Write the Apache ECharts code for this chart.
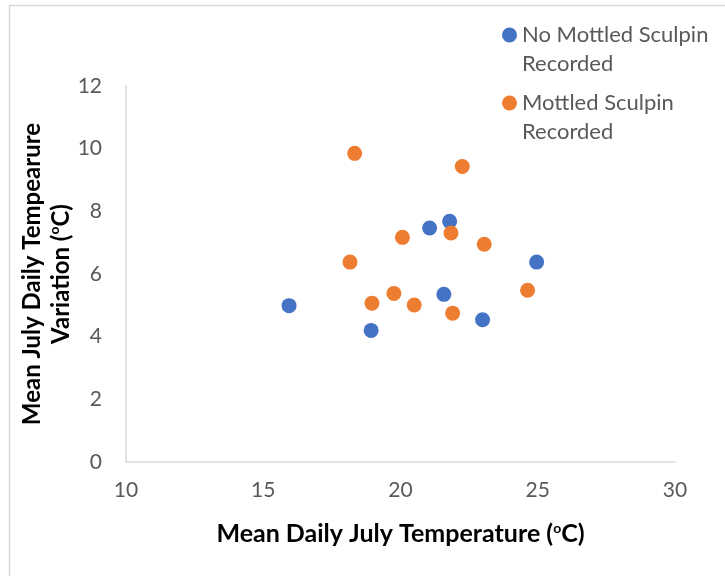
<!DOCTYPE html>
<html>
<head>
  <meta charset="UTF-8">
  <title>Mottled Sculpin</title>
  <script src="https://cdn.jsdelivr.net/npm/echarts@6/dist/echarts.min.js"></script>
  <style>
    html, body { margin: 0; padding: 0; background: #fff; }
    #chart { width: 725px; height: 576px; }
  </style>
</head>
<body>
  <div id="chart"></div>
  <script>
    // series names
    const names = ['No Mottled Sculpin\nRecorded', 'Mottled Sculpin\nRecorded'];

    // [mean daily July temp, mean July daily temp variation]
    const noSculpin = [
      [15.94, 4.99], [18.93, 4.20], [21.06, 7.47], [21.79, 7.68],
      [21.58, 5.35], [22.99, 4.54], [24.96, 6.38]
    ];
    const sculpin = [
      [18.33, 9.85], [22.25, 9.43], [18.16, 6.38], [20.07, 7.17],
      [21.84, 7.31], [23.05, 6.95], [18.96, 5.07], [19.76, 5.38],
      [20.50, 5.01], [21.90, 4.75], [24.63, 5.48]
    ];

    const colors = ['#4472C4', '#ED7D31'];
    const font = 'Lato, "Noto Sans", sans-serif';
    const sup = { fontFamily: font, fontSize: 14, fontWeight: 'bold', color: '#000', verticalAlign: 'top', padding: [0, 0, 10, 0] };

    const chart = echarts.init(document.getElementById('chart'));
    chart.setOption({
      animation: false,
      color: colors,
      textStyle: { fontFamily: font },
      graphic: [{
        type: 'rect',
        shape: { x: 9.5, y: 5.5, width: 800, height: 700 },
        style: { fill: 'none', stroke: '#d9d9d9', lineWidth: 1.5 },
        silent: true
      }],
      legend: {
        orient: 'vertical',
        left: 497,
        top: -13.5,
        itemWidth: 15,
        itemHeight: 15,
        itemGap: -19,
        icon: 'circle',
        // empty first line keeps the dot level with the first text line
        formatter: name => '\n' + name,
        textStyle: {
          fontFamily: font,
          fontSize: 22,
          color: '#595959',
          lineHeight: 29
        }
      },
      grid: { left: 126, right: 50, top: 86, bottom: 114 },
      xAxis: {
        type: 'value',
        min: 10, max: 30, interval: 5,
        name: 'Mean Daily July Temperature ({s|o}C)',
        nameLocation: 'middle',
        nameGap: 59,
        nameMoveOverlap: false,
        nameTextStyle: {
          fontFamily: font, fontSize: 25, fontWeight: 'bold', color: '#000',
          rich: { s: sup }
        },
        axisLine: { lineStyle: { color: '#d9d9d9', width: 1.5 } },
        axisTick: { show: false },
        splitLine: { show: false },
        axisLabel: { fontFamily: font, fontSize: 21, color: '#595959', margin: 18 }
      },
      yAxis: {
        type: 'value',
        min: 0, max: 12, interval: 2,
        name: 'Mean July Daily Tempearure\nVariation ({s|o}C)',
        nameLocation: 'middle',
        nameGap: 50,
        nameMoveOverlap: false,
        nameTextStyle: {
          fontFamily: font, fontSize: 24, fontWeight: 'bold', color: '#000', lineHeight: 29,
          rich: { s: sup }
        },
        axisLine: { show: true, lineStyle: { color: '#d9d9d9', width: 1.5 } },
        axisTick: { show: false },
        splitLine: { show: false },
        axisLabel: { fontFamily: font, fontSize: 21, color: '#595959', margin: 24 }
      },
      series: [
        { name: names[0], type: 'scatter', symbolSize: 15, itemStyle: { opacity: 1 }, data: noSculpin },
        { name: names[1], type: 'scatter', symbolSize: 15, itemStyle: { opacity: 1 }, data: sculpin }
      ]
    });
  </script>
</body>
</html>
